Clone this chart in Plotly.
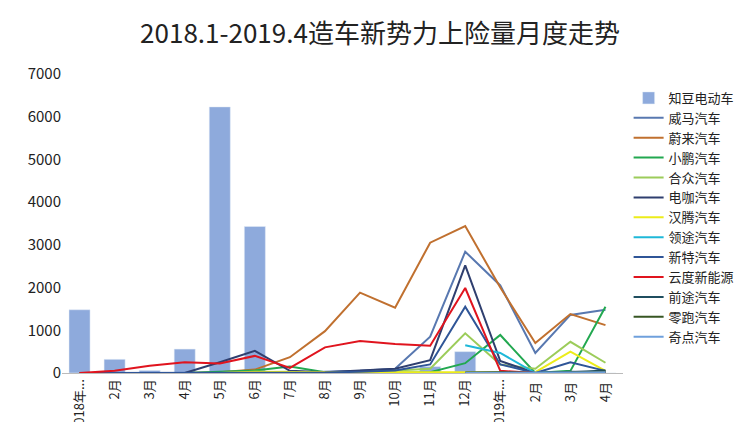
import plotly.graph_objects as go

months = ["2018年...", "2月", "3月", "4月", "5月", "6月", "7月", "8月", "9月", "10月",
          "11月", "12月", "2019年...", "2月 ", "3月 ", "4月 "]

zhidou = [1480, 320, 60, 560, 6230, 3430, 0, 0, 0, 0, 150, 500, 0, 0, 0, 0]
weima = [0, 0, 0, 0, 0, 0, 0, 30, 50, 100, 850, 2840, 2050, 470, 1360, 1480]
weilai = [0, 0, 0, 0, 20, 80, 370, 980, 1880, 1530, 3050, 3440, 2000, 700, 1380, 1120]
xiaopeng = [0, 0, 0, 0, 30, 60, 150, 20, 10, 10, 20, 230, 890, 0, 50, 1550]
hezhong = [0, 0, 0, 0, 0, 20, 30, 20, 30, 60, 100, 930, 200, 100, 730, 240]
dianka = [0, 0, 0, 0, 250, 520, 50, 20, 60, 100, 300, 2520, 280, 0, 30, 20]
hanteng = [0, 0, 0, 0, 0, 30, 20, 10, 10, 20, 20, 30, 20, 20, 500, 50]
lingtu = [None] * 11 + [650, 470, 0, 20, 10]
xinte = [0, 0, 0, 0, 0, 0, 0, 10, 30, 60, 200, 1550, 200, 0, 250, 50]
yundu = [0, 50, 170, 250, 220, 400, 120, 600, 750, 680, 640, 1990, 50, 0, 0, 0]
qiantu = [None] * 11 + [10, 10, 0, 20, 60]
lingpao = [None] * 11 + [0, 20, 0, 10, 30]
qidian = [None] * 11 + [0, 0, 0, 10, 20]

lines = [
    ("威马汽车", weima, "#5878b0"),
    ("蔚来汽车", weilai, "#c0702f"),
    ("小鹏汽车", xiaopeng, "#22a850"),
    ("合众汽车", hezhong, "#9ccc5a"),
    ("电咖汽车", dianka, "#2f3f6f"),
    ("汉腾汽车", hanteng, "#ecec1a"),
    ("领途汽车", lingtu, "#1fb8d8"),
    ("新特汽车", xinte, "#2f5597"),
    ("云度新能源", yundu, "#e0141e"),
    ("前途汽车", qiantu, "#1f4e5f"),
    ("零跑汽车", lingpao, "#375623"),
    ("奇点汽车", qidian, "#6fa0dc"),
]

fig = go.Figure()
fig.add_trace(go.Bar(x=months, y=zhidou, name="知豆电动车", marker_color="#8eaadc", width=0.6))
for name, vals, color in lines:
    fig.add_trace(go.Scatter(x=months, y=vals, name=name, mode="lines",
                             line=dict(color=color, width=2)))

fig.update_layout(
    width=744, height=422,
    title=dict(text="2018.1-2019.4造车新势力上险量月度走势", x=0.5, y=0.96,
               font=dict(size=26, color="#222")),
    font=dict(family="Noto Sans CJK SC", color="#222"),
    paper_bgcolor="white", plot_bgcolor="white",
    margin=dict(l=54, r=116, t=66, b=57),
    bargap=0.4,
    legend=dict(x=1.01, y=0.97, font=dict(size=13), tracegroupgap=0,
                itemwidth=30),
    showlegend=True,
)
fig.update_xaxes(tickangle=-90, tickfont=dict(size=13), showline=True,
                 linecolor="#bbb", ticks="", automargin=False)
fig.update_yaxes(range=[0, 7000], dtick=1000, showgrid=False, showline=False,
                 tickfont=dict(size=15), zeroline=False, automargin=False)
fig.write_html("out.html")
